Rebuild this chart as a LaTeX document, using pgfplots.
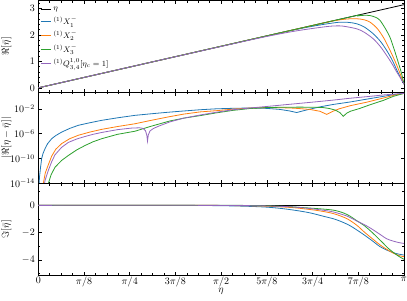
\documentclass[border=0pt]{standalone}
\usepackage{pgfplots}
\pgfplotsset{compat=1.18}
\definecolor{cB}{RGB}{31,119,180}
\definecolor{cO}{RGB}{255,127,14}
\definecolor{cG}{RGB}{44,160,44}
\definecolor{cP}{RGB}{148,103,189}
\pgfplotsset{
  panel/.style={
    scale only axis, width=365.7pt, height=91.5pt,
    xmin=0, xmax=3.14159265,
    xtick={0,0.3926991,0.7853982,1.1780972,1.5707963,1.9634954,2.3561945,2.7488936,3.1415927},
    minor x tick num=3,
    tick align=inside, xtick pos=both, ytick pos=both,
    major tick length=3.5pt, minor tick length=2pt,
    every tick/.style={black, line width=0.5pt},
    axis line style={line width=0.6pt},
    xticklabel style={inner sep=1.5pt},
    ylabel style={at={(axis description cs:-0.087,0.5)}, anchor=center, inner sep=0pt},
    every axis plot/.append style={line width=0.8pt, mark=none},
  },
}
\begin{document}
\begin{tikzpicture}
% ---------------- panel 1 ----------------
\begin{axis}[panel, name=p1, ymin=-0.157, ymax=3.299, ytick={0,1,2,3},
  minor ytick={0.2,0.4,0.6,0.8,1.2,1.4,1.6,1.8,2.2,2.4,2.6,2.8,3.2},
  xticklabels={}, ylabel={$\Re[\bar{\eta}]$},
  legend style={draw=none, fill=none, font=\footnotesize, at={(axis description cs:0,0.975)}, anchor=north west, inner sep=2pt, row sep=1pt},
  legend cell align=left,
  legend image code/.code={\draw[#1] (0pt,0pt) -- (10pt,0pt);}]
\addplot[black] coordinates {(0,0) (3.1415927,3.1415927)};
\addlegendentry{$\eta$}
\addplot[cB, smooth] coordinates {(0,0) (1,1) (2.0,2.0) (2.2,2.19) (2.3,2.28) (2.4,2.36) (2.5,2.43) (2.592,2.48) (2.67,2.47) (2.735,2.42) (2.8,2.3) (2.878,2.04) (2.94,1.75) (2.993,1.41) (3.04,1.05) (3.079,0.68) (3.11,0.4) (3.1416,0.14)};
\addlegendentry{${}^{(1)}X_1^{-}$}
\addplot[cO, smooth] coordinates {(0,0) (1.2,1.2) (2.4,2.4) (2.55,2.54) (2.65,2.6) (2.735,2.61) (2.8,2.57) (2.85,2.48) (2.91,2.25) (2.964,1.91) (3.01,1.52) (3.05,1.15) (3.08,0.85) (3.107,0.55) (3.1416,0.14)};
\addlegendentry{${}^{(1)}X_2^{-}$}
\addplot[cG, smooth] coordinates {(0,0) (1.3,1.3) (2.65,2.65) (2.75,2.72) (2.8,2.74) (2.85,2.73) (2.9,2.66) (2.935,2.55) (2.98,2.25) (3.021,1.91) (3.05,1.55) (3.079,1.15) (3.1,0.85) (3.122,0.52) (3.1416,0.14)};
\addlegendentry{${}^{(1)}X_3^{-}$}
\addplot[cP, smooth] coordinates {(0,0) (1,1) (1.82,1.807) (2.1,2.06) (2.25,2.175) (2.4,2.27) (2.5,2.325) (2.56,2.34) (2.62,2.33) (2.735,2.23) (2.8,2.1) (2.878,1.85) (2.94,1.55) (2.993,1.22) (3.04,0.9) (3.079,0.6) (3.11,0.38) (3.1416,0.14)};
\addlegendentry{${}^{(1)}Q_{3,4}^{1,0}[\eta_c=1]$}
\end{axis}
% ---------------- panel 2 ----------------
\begin{axis}[panel, name=p2, at={(p1.south west)}, anchor=north west,
  ymode=log, ymin=1e-14, ymax=5, ytick={1e-14,1e-10,1e-6,1e-2}, yminorticks=false,
  xticklabels={}, ylabel={$|\Re[\eta-\bar{\eta}]|$}]
\addplot[cB] coordinates {(0.005,1e-15) (0.01,1e-13) (0.02,5.01e-12) (0.029,1e-10) (0.04,6.31e-10) (0.058,3.98e-9) (0.08,2.51e-8) (0.115,1.585e-7) (0.15,5.01e-7) (0.2,1.778e-6) (0.27,7.08e-6) (0.344,2.24e-5) (0.44,5.62e-5) (0.545,1.41e-4) (0.68,3.55e-4) (0.831,8.91e-4) (0.97,1.585e-3) (1.117,2.82e-3) (1.25,4.47e-3) (1.389,7.08e-3) (1.53,1e-2) (1.673,1.202e-2) (1.82,1.349e-2) (1.96,1.175e-2) (2.077,7.94e-3) (2.16,4.47e-3) (2.22,2.51e-3) (2.27,4.47e-3) (2.334,8.91e-3) (2.43,2.24e-2) (2.534,5.01e-2) (2.68,0.1259) (2.821,0.355) (2.98,1.122) (3.06,1.995) (3.1416,3.02)};
\addplot[cO] coordinates {(0.035,3.16e-16) (0.043,1e-14) (0.06,5.01e-13) (0.086,1e-11) (0.115,2.51e-10) (0.15,3.16e-9) (0.2,2.51e-8) (0.27,1.585e-7) (0.344,5.62e-7) (0.44,1.778e-6) (0.545,5.01e-6) (0.68,1.413e-5) (0.831,3.98e-5) (0.97,1.413e-4) (1.117,5.01e-4) (1.25,1.413e-3) (1.389,3.16e-3) (1.53,5.01e-3) (1.673,8.91e-3) (1.82,1.349e-2) (1.96,1.585e-2) (2.08,1.514e-2) (2.2,1.259e-2) (2.334,7.94e-3) (2.42,3.98e-3) (2.478,1.259e-3) (2.53,3.98e-3) (2.585,1e-2) (2.68,3.16e-2) (2.821,0.1148) (2.98,0.631) (3.06,1.585) (3.1416,3.02)};
\addplot[cG] coordinates {(0.075,3.16e-16) (0.086,1e-14) (0.11,2.51e-13) (0.143,3.98e-12) (0.2,5.01e-11) (0.258,3.16e-10) (0.33,2.51e-9) (0.401,1.259e-8) (0.47,5.01e-8) (0.545,1.585e-7) (0.68,7.94e-7) (0.831,2.51e-6) (0.96,1.413e-5) (1.131,1.122e-4) (1.25,3.16e-4) (1.389,7.94e-4) (1.53,2.24e-3) (1.673,5.62e-3) (1.82,1.122e-2) (1.96,1.585e-2) (2.1,1.778e-2) (2.248,1.862e-2) (2.38,1.778e-2) (2.446,1.585e-2) (2.5,1.122e-2) (2.55,6.31e-3) (2.59,2.51e-3) (2.62,6.31e-4) (2.65,2.0e-3) (2.68,3.98e-3) (2.76,1.122e-2) (2.85,4.47e-2) (2.964,0.2239) (3.05,1.0) (3.1416,3.02)};
\addplot[cP] coordinates {(0.04,3.16e-16) (0.058,3.16e-14) (0.086,1.259e-12) (0.115,3.16e-11) (0.143,3.98e-10) (0.2,6.31e-9) (0.258,3.98e-8) (0.33,1.413e-7) (0.401,3.55e-7) (0.47,7.94e-7) (0.545,1.585e-6) (0.68,4.47e-6) (0.8,7.94e-6) (0.87,8.91e-6) (0.9,7.08e-6) (0.92,3.16e-6) (0.932,6.31e-7) (0.938,6.31e-8) (0.945,6.31e-7) (0.96,2.82e-6) (0.985,6.31e-6) (1.02,1.259e-5) (1.06,2.51e-5) (1.131,7.94e-5) (1.25,3.16e-4) (1.389,1e-3) (1.53,2.82e-3) (1.673,7.08e-3) (1.82,1.349e-2) (1.96,2.34e-2) (2.1,4.17e-2) (2.248,7.59e-2) (2.4,0.1413) (2.534,0.251) (2.68,0.501) (2.821,0.891) (2.98,1.778) (3.1416,3.02)};
\end{axis}
% ---------------- panel 3 ----------------
\begin{axis}[panel, name=p3, at={(p2.south west)}, anchor=north west,
  ymin=-5.1, ymax=1.6, ytick={-4,-2,0}, minor ytick={-5,-3,-1,1},
  xticklabels={$0$,$\pi/8$,$\pi/4$,$3\pi/8$,$\pi/2$,$5\pi/8$,$3\pi/4$,$7\pi/8$,$\pi$},
  xlabel={$\eta$}, xlabel style={at={(axis description cs:0.5,-0.183)}, anchor=center, inner sep=0pt},
  ylabel={$\Im[\bar{\eta}]$}]
\addplot[black] coordinates {(0,0) (3.1415927,0)};
\addplot[cB, smooth] coordinates {(0,0) (1.2,0) (1.4,-0.01) (1.6,-0.03) (1.8,-0.07) (1.96,-0.13) (2.1,-0.24) (2.25,-0.42) (2.35,-0.58) (2.45,-0.8) (2.534,-0.98) (2.6,-1.18) (2.68,-1.5) (2.78,-2.05) (2.87,-2.6) (2.935,-3.02) (3.0,-3.3) (3.07,-3.52) (3.1416,-3.64)};
\addplot[cO, smooth] coordinates {(0,0) (1.4,0) (1.7,-0.02) (1.96,-0.06) (2.16,-0.15) (2.25,-0.22) (2.4,-0.38) (2.534,-0.6) (2.65,-0.97) (2.735,-1.45) (2.8,-1.95) (2.878,-2.5) (2.94,-2.92) (2.993,-3.22) (3.05,-3.5) (3.1,-3.68) (3.1416,-3.76)};
\addplot[cG, smooth] coordinates {(0,0) (1.6,0) (1.9,-0.02) (2.1,-0.07) (2.25,-0.15) (2.4,-0.24) (2.534,-0.35) (2.62,-0.55) (2.68,-0.8) (2.735,-1.12) (2.8,-1.48) (2.87,-2.0) (2.93,-2.5) (2.964,-2.78) (3.0,-3.1) (3.05,-3.45) (3.1,-3.75) (3.1416,-3.95)};
\addplot[cP, smooth] coordinates {(0,0) (1.4,0) (1.8,-0.02) (2.0,-0.05) (2.16,-0.1) (2.3,-0.2) (2.45,-0.36) (2.534,-0.48) (2.65,-0.78) (2.735,-1.14) (2.82,-1.5) (2.878,-1.8) (2.94,-2.15) (2.993,-2.45) (3.05,-2.62) (3.1,-2.73) (3.1416,-2.79)};
\end{axis}
\pgfresetboundingbox
\path[use as bounding box] ([xshift=-38.3pt,yshift=0.5pt]p1.north west) rectangle ([xshift=3pt,yshift=-25pt]p3.south east);
\end{tikzpicture}
\end{document}
